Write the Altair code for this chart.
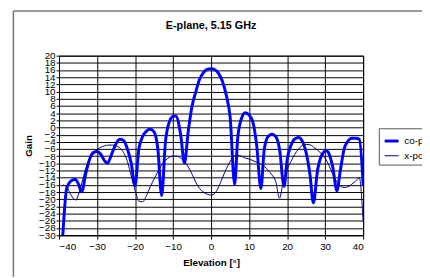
import altair as alt
import pandas as pd

co_x = [-39, -38, -37, -35.7, -35, -34, -33, -32, -31, -30, -29, -28, -27.3, -26, -25, -24, -23, -22, -21,
        -20, -19, -18, -17, -16, -15, -14, -13, -12, -11, -10, -9.3, -8, -7,
        -6, -5, -4, -3, -2, -1, 0, 1, 2, 3, 4, 5, 6.2, 7, 8, 9, 10, 11, 12, 13.1,
        14, 15, 16, 17, 18, 19.2, 20, 21, 22, 23, 24, 25, 26, 26.9, 28, 29, 30.3, 31, 32,
        33.1, 34, 35, 36, 37, 38, 39, 40]
co_y = [-30, -17, -15, -14.4, -15.5, -17.9, -13, -9, -7, -6.7, -7.5, -9.3, -9.9, -7, -4.5, -3.3, -3.6, -6, -10,
        -16.2, -6, -2.5, -1, -0.5, -1.2, -6, -19, -4, 1.5, 3.1, 3.2, -2, -9.9,
        -1, 6, 10, 13.5, 15.3, 16.2, 16.4, 16.1, 15, 12.8, 9, 3, -15.8, -3, 2.5, 4.1, 3.5, 1.5, -5, -17,
        -6, -2.5, -1.9, -2.5, -6, -16.4, -9, -5, -3.2, -2.8, -3.8, -7, -13, -21, -12, -8, -6.5, -7.3, -11,
        -17.6, -12, -6, -3.8, -3, -3, -3.3, -16]

x_x = [-39, -38, -37, -36, -35.5, -35, -34, -33, -32, -31, -30, -29, -28, -27, -26, -25, -24, -23, -22, -21,
       -20, -19, -18, -17, -16, -15, -14, -13, -12, -11, -10, -9, -8, -7, -6, -5, -4, -3, -2, -1,
       0, 1, 2, 3, 4, 5, 6, 7, 8, 9, 10, 11, 12, 13, 14, 15, 16, 17, 18, 19,
       20, 21, 22, 23, 24, 25, 26, 27, 28, 29, 30, 31, 32, 33, 34, 35, 36, 37, 38, 39, 40]
x_y = [-16, -16.5, -18.5, -20, -20.2, -19, -15.5, -11.5, -9, -7.5, -6.2, -5.5, -5.1, -4.9, -4.9, -5.1, -5.7, -7, -9.5, -13.5,
       -17.5, -20.5, -20.7, -19, -16.5, -14.4, -12.3, -10.5, -9.2, -8.3, -8, -8, -8.5, -9.5, -11, -13, -15.3, -17, -18, -18.6,
       -18.8, -18.3, -16.5, -14, -11.5, -9.5, -8, -7.7, -8, -8.5, -8.8, -9.2, -9.7, -10.2, -10.8, -12, -13.2, -15, -19.7, -15,
       -11.7, -9.5, -7.5, -6, -5, -4.7, -4.8, -5.5, -6.3, -7.3, -8.5, -10.5, -13, -15, -16.3, -16.7, -16.5, -15.8, -15, -14, -26.3]

series = ["co-pol", "x-pol"]
x_ticks = [-40, -30, -20, -10, 0, 10, 20, 30, 40]
y_ticks = list(range(-30, 21, 2))

df = pd.concat([
    pd.DataFrame({"Elevation": co_x, "Gain": co_y, "series": series[0], "order": range(len(co_x))}),
    pd.DataFrame({"Elevation": x_x, "Gain": x_y, "series": series[1], "order": range(len(x_x))}),
])

FONT = "Liberation Sans"

lines = alt.Chart(df).mark_line(interpolate="monotone", clip=True).encode(
    x=alt.X("Elevation:Q", scale=alt.Scale(domain=[-40, 40], nice=False),
            axis=alt.Axis(values=x_ticks, title="Elevation [°]", grid=True, gridColor="black",
                          gridOpacity=1, tickColor="black", tickSize=4, domainColor="black",
                          labelPadding=3, titlePadding=6)),
    y=alt.Y("Gain:Q", scale=alt.Scale(domain=[-30, 20], nice=False),
            axis=alt.Axis(values=y_ticks, title="Gain", grid=True, gridColor="black",
                          gridOpacity=1, tickColor="black", tickSize=3, domainColor="black",
                          labelOverlap=False, labelPadding=1, titlePadding=5, labelFlush=False)),
    color=alt.Color("series:N", scale=alt.Scale(domain=series, range=["#0000ff", "#000080"]),
                    legend=alt.Legend(title=None, orient="none", legendX=326, legendY=74,
                                      symbolType="stroke", symbolSize=200,
                                      strokeColor="#555555", padding=4, rowPadding=1,
                                      labelFontSize=10, labelFont=FONT, fillColor="white")),
    strokeWidth=alt.StrokeWidth("series:N", scale=alt.Scale(domain=series, range=[3, 1]), legend=None),
    order="order:Q",
)

border = alt.Chart(pd.DataFrame({"k": [0]})).mark_rule(color="#777777", strokeWidth=1.5).encode(
    x=alt.value(-46.5), y=alt.value(-45.5), y2=alt.value(230))
border_top = alt.Chart(pd.DataFrame({"k": [0]})).mark_rule(color="#777777", strokeWidth=1.5).encode(
    x=alt.value(-46.5), x2=alt.value(380), y=alt.value(-45.5))

chart = alt.layer(border, border_top, lines).properties(
    width=310, height=183,
    title=alt.TitleParams("E-plane, 5.15 GHz", fontSize=11, fontWeight="bold", font=FONT, offset=-21),
    autosize=alt.AutoSizeParams(type="none"),
    padding={"left": 52, "top": 46, "right": 60, "bottom": 40},
).configure_axis(
    labelFont=FONT, titleFont=FONT, labelFontSize=10, titleFontSize=10, titleFontWeight="bold",
    labelColor="black", titleColor="black", gridWidth=1,
).configure_view(stroke="black", strokeWidth=1)

chart.save("out.html", embed_options={"renderer": "svg", "actions": False})
